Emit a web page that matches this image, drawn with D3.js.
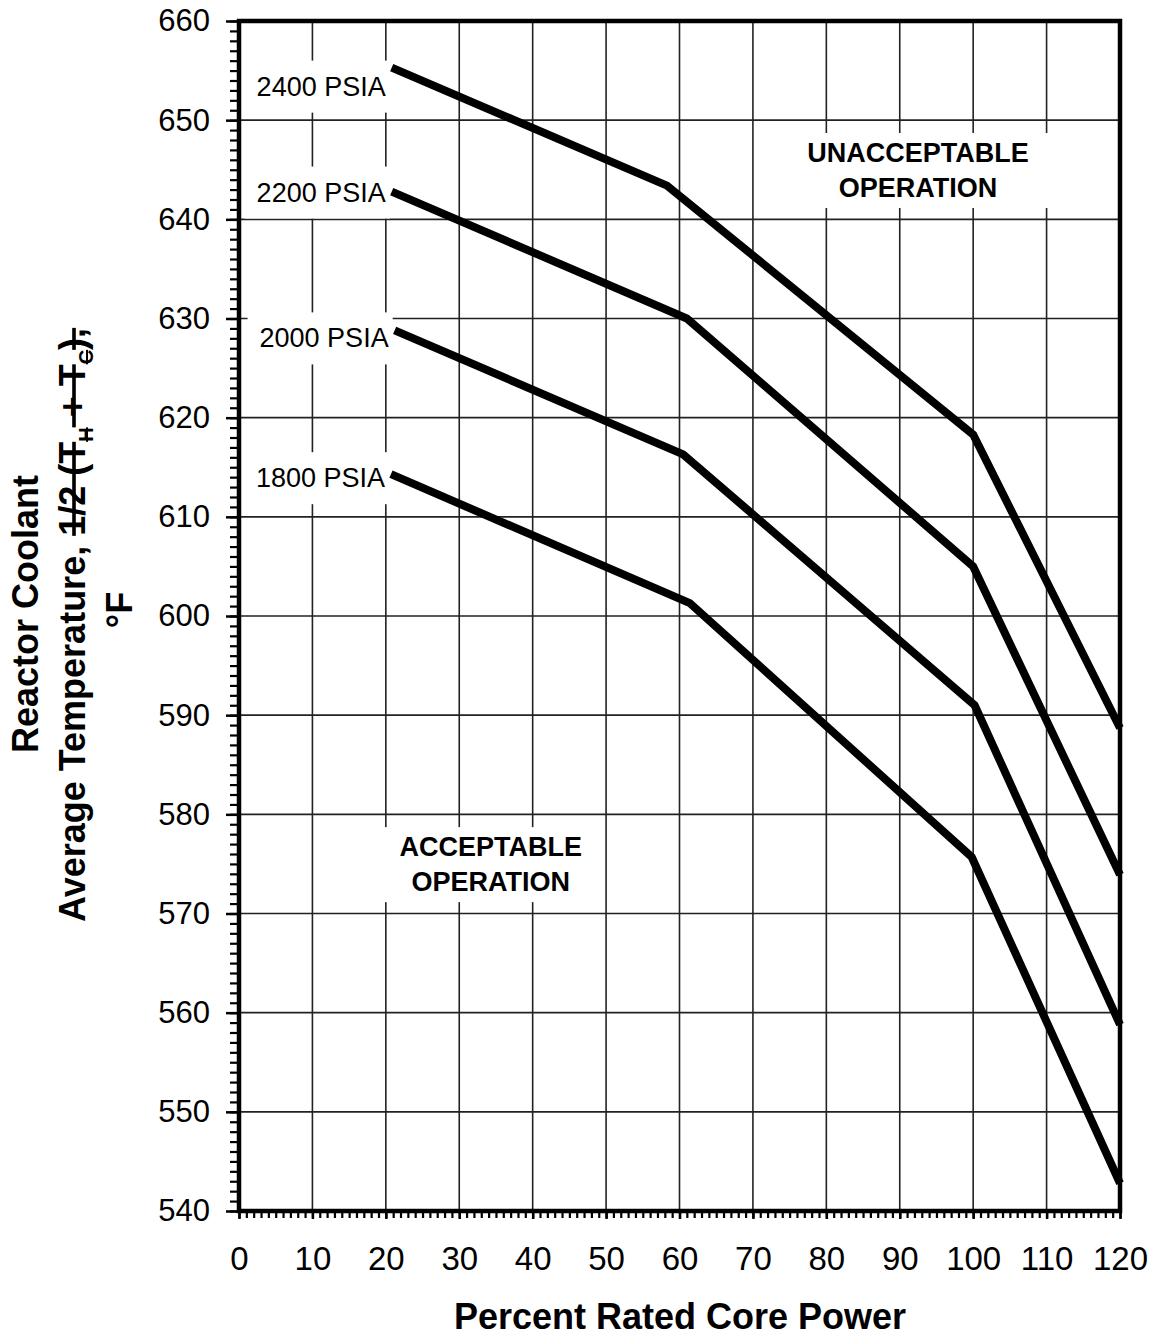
<!DOCTYPE html>
<html>
<head>
<meta charset="utf-8">
<script src="https://cdn.jsdelivr.net/npm/d3@7"></script>
<style>
  html, body { margin: 0; padding: 0; background: #fff; }
  svg { display: block; font-family: "Liberation Sans", Arial, sans-serif; }
</style>
</head>
<body>
<svg id="chart" width="1155" height="1336"></svg>
<script>
// ---------------- data ----------------
const pressureLabels = ["2400 PSIA", "2200 PSIA", "2000 PSIA", "1800 PSIA"];
const powerPoints2400 = [20.8, 58.3, 100, 120];
const tempPoints2400  = [655.3, 643.4, 618.3, 588.7];
const powerPoints2200 = [20.8, 61.0, 100, 120];
const tempPoints2200  = [642.8, 630.0, 605.0, 573.9];
const powerPoints2000 = [21.2, 60.5, 100.2, 120];
const tempPoints2000  = [628.8, 616.3, 591.0, 558.8];
const powerPoints1800 = [20.7, 61.4, 99.8, 120];
const tempPoints1800  = [614.3, 601.3, 575.7, 542.8];
const xTickLabels = [0, 10, 20, 30, 40, 50, 60, 70, 80, 90, 100, 110, 120];
const yTickLabels = [540, 550, 560, 570, 580, 590, 600, 610, 620, 630, 640, 650, 660];
const xTitle = "Percent Rated Core Power";
const yTitleLine1 = "Reactor Coolant";
const yTitleLine2 = "Average Temperature, ";
const yTitleLine3 = "°F";
const regionUnacceptable = ["UNACCEPTABLE", "OPERATION"];
const regionAcceptable = ["ACCEPTABLE", "OPERATION"];

const seriesPower = [powerPoints2400, powerPoints2200, powerPoints2000, powerPoints1800];
const seriesTemp  = [tempPoints2400, tempPoints2200, tempPoints2000, tempPoints1800];

// ---------------- layout ----------------
const svg = d3.select("#chart");
const pL = 239, pR = 1120, pT = 21, pB = 1211;
const x = d3.scaleLinear().domain([0, 120]).range([pL, pR]);
const y = d3.scaleLinear().domain([540, 660]).range([pB, pT]);
const FONT = '"Liberation Sans", Arial, sans-serif';

// grid
const grid = svg.append("g").attr("stroke", "#222").attr("stroke-width", 1.6);
grid.selectAll("line.v").data(xTickLabels.filter(d => d > 0 && d < 120)).join("line").attr("class", "v")
  .attr("x1", d => x(d)).attr("x2", d => x(d)).attr("y1", pT).attr("y2", pB);
grid.selectAll("line.h").data(yTickLabels.filter(d => d > 540 && d < 660)).join("line").attr("class", "h")
  .attr("y1", d => y(d)).attr("y2", d => y(d)).attr("x1", pL).attr("x2", pR);

// axes: minor ticks
const minorY = d3.axisLeft(y).tickValues(d3.range(540, 661, 1)).tickSize(9).tickFormat("");
const minorX = d3.axisBottom(x).tickValues(d3.range(0, 121, 1)).tickSize(7).tickFormat("");
svg.append("g").attr("transform", `translate(${pL},0)`).call(minorY)
  .call(g => g.select(".domain").remove())
  .call(g => g.selectAll("line").attr("stroke", "#000").attr("stroke-width", 2.2));
svg.append("g").attr("transform", `translate(0,${pB})`).call(minorX)
  .call(g => g.select(".domain").remove())
  .call(g => g.selectAll("line").attr("stroke", "#000").attr("stroke-width", 2.2));

// major ticks + labels
const majorY = d3.axisLeft(y).tickValues(yTickLabels).tickSize(13).tickPadding(16).tickFormat(d3.format("d"));
const majorX = d3.axisBottom(x).tickValues(xTickLabels).tickSize(8).tickPadding(28).tickFormat(d3.format("d"));
svg.append("g").attr("transform", `translate(${pL},0)`).call(majorY)
  .call(g => g.select(".domain").remove())
  .call(g => g.selectAll("line").attr("stroke", "#000").attr("stroke-width", 2.5))
  .call(g => g.selectAll("text").attr("font-size", 31).attr("font-family", FONT).attr("fill", "#000"));
svg.append("g").attr("transform", `translate(0,${pB})`).call(majorX)
  .call(g => g.select(".domain").remove())
  .call(g => g.selectAll("line").attr("stroke", "#000").attr("stroke-width", 2.5))
  .call(g => g.selectAll("text").attr("font-size", 33).attr("font-family", FONT).attr("fill", "#000"));

// region annotation boxes (white background covering grid)
function boxedText(lines, cx, cy, size, padX, padY, lineH) {
  const g = svg.append("g");
  const rect = g.append("rect").attr("fill", "#fff");
  const t = g.append("text").attr("text-anchor", "middle").attr("font-size", size)
    .attr("font-weight", "bold").attr("font-family", FONT).attr("fill", "#000");
  lines.forEach((s, i) => {
    t.append("tspan").attr("x", cx).attr("y", cy + (i - (lines.length - 1) / 2) * lineH + size * 0.36).text(s);
  });
  const b = t.node().getBBox();
  rect.attr("x", b.x - padX).attr("y", b.y - padY).attr("width", b.width + 2 * padX).attr("height", b.height + 2 * padY);
  return g;
}
boxedText(regionUnacceptable, x(92.5), y(645.0), 27, 20, 5, 35);
boxedText(regionAcceptable, x(34.3), y(575.0), 27, 22, 5, 35);

// pressure labels (end-anchored left of the line start, white box)
const labelDY = [28, 10, 17, 13];
const labelDX = [-6, -6, -6, -6];
pressureLabels.forEach((lab, i) => {
  const sx = x(seriesPower[i][0]), sy = y(seriesTemp[i][0]);
  const g = svg.append("g");
  const rect = g.append("rect").attr("fill", "#fff");
  const t = g.append("text").attr("text-anchor", "end").attr("font-size", 27)
    .attr("font-family", FONT).attr("fill", "#000")
    .attr("x", sx + labelDX[i]).attr("y", sy + labelDY[i]).text(lab);
  const b = t.node().getBBox();
  rect.attr("x", b.x - 12).attr("y", b.y - 11).attr("width", b.width + 16).attr("height", b.height + 22);
});

// frame
svg.append("rect").attr("x", pL).attr("y", pT).attr("width", pR - pL).attr("height", pB - pT)
  .attr("fill", "none").attr("stroke", "#000").attr("stroke-width", 4.5);

// curves
const line = d3.line().x(d => x(d[0])).y(d => y(d[1]));
seriesPower.forEach((px, i) => {
  const pts = px.map((p, j) => [p, seriesTemp[i][j]]);
  svg.append("path").attr("d", line(pts)).attr("fill", "none").attr("stroke", "#000")
    .attr("stroke-width", 8).attr("stroke-linejoin", "miter").attr("stroke-linecap", "butt");
});

// axis titles
svg.append("text").attr("x", 680).attr("y", 1329).attr("text-anchor", "middle")
  .attr("font-size", 36).attr("font-weight", "bold").attr("font-family", FONT).text(xTitle);

svg.append("text").attr("transform", "translate(38,614) rotate(-90)").attr("text-anchor", "middle")
  .attr("font-size", 36).attr("font-weight", "bold").attr("font-family", FONT).text(yTitleLine1);

const t2 = svg.append("text").attr("transform", "translate(85,922) rotate(-90)").attr("text-anchor", "start")
  .attr("font-size", 36).attr("font-weight", "bold").attr("font-family", FONT);
t2.append("tspan").text(yTitleLine2);
const struck = t2.append("tspan").style("text-decoration", "line-through");
struck.append("tspan").text("1/2 (T");
struck.append("tspan").attr("font-size", 20).attr("dy", 8).text("H");
struck.append("tspan").attr("dy", -8).text(" + T");
struck.append("tspan").attr("font-size", 20).attr("dy", 8).text("C");
struck.append("tspan").attr("dy", -8).text("),");

svg.append("text").attr("transform", "translate(132,610) rotate(-90)").attr("text-anchor", "middle")
  .attr("font-size", 36).attr("font-weight", "bold").attr("font-family", FONT).text(yTitleLine3);
</script>
</body>
</html>
